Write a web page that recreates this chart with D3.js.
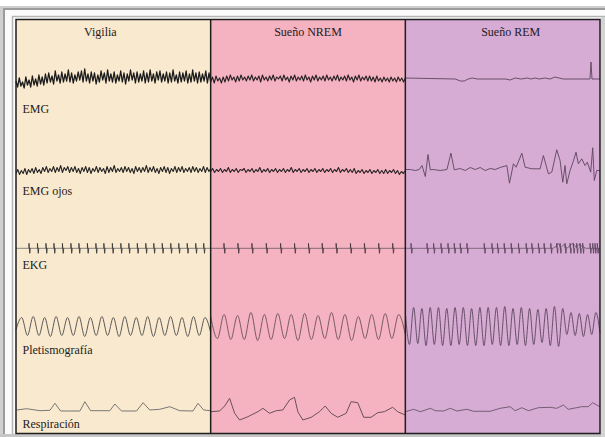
<!DOCTYPE html>
<html>
<head>
<meta charset="utf-8">
<script src="https://cdn.jsdelivr.net/npm/d3@7"></script>
<style>
    body { margin: 0; background: #fff; }
    svg { display: block; }
    text { font-family: "Liberation Serif", "DejaVu Serif", serif; fill: #1c1c1c; }
</style>
</head>
<body>
<div id="chart"></div>
<script>
// stages and signals
const states = ["Vigilia", "Sueño NREM", "Sueño REM"];
const signals = ["EMG", "EMG ojos", "EKG", "Pletismografía", "Respiración"];

// EMG (dense samples, offset in px, + is down)
const emgVigilia = [
    2, 8, -1, 7, 3, 9, -2, 6, 1, 8,
    -3, 6, 0, 7, -4, 5, -2, 6, -5, 4,
    -6, 3, -3, 5, -8, 2, -4, 4, -7, 3,
    -5, 2, -9, 3, -6, 4, -4, 2, -7, 1,
    -8, 3, -10, 2, -5, 4, -7, 2, -6, 5,
    -4, 3, -8, 1, -6, 4, -9, 2, -5, 3,
    -7, 4, -4, 2, -8, 3, -6, 5, -5, 2,
    -9, 1, -6, 4, -7, 3, -5, 2, -8, 4,
    -6, 3, -9, 2, -5, 4, -7, 1, -8, 3,
    -5, 2, -7, 4, -6, 3, -9, 2, -4, 4,
    -7, 3, -6, 2, -8, 4, -5, 3, -9, 2,
    -6, 4, -7, 3, -5, 2, -8, 4, -6, 3
];
const emgNrem = [
    3, -2, 4, -3, 2, -1, 4, -2, 3, -3,
    2, -4, 1, -2, 3, -3, 2, -4, 1, -2,
    2, -3, 1, -4, 2, -2, 1, -3, 3, -4,
    1, -2, 2, -3, 1, -4, 2, -2, 0, -3,
    2, -4, 1, -2, 3, -3, 1, -4, 2, -2,
    1, -3, 2, -4, 1, -2, 3, -3, 1, -4,
    2, -2, 1, -3, 2, -4, 1, -2, 2, -3,
    1, -4, 2, -2, 1, -3, 2, -4, 1, -2,
    3, -3, 1, -4, 2, -2, 1, -3, 2, -3,
    2, -2, 3, -3, 2, -1, 3, -2, 2, -1,
    3, -2, 2, -1, 3, -2, 2, -1, 3, -1
];
// [time, offset]
const emgRem = [
    [0, -1], [50, 0], [55, 2], [59, 2], [63, 0], [67, -1], [72, 0], [100, 0], [105, 1], [110, -1],
    [116, 0], [122, -1], [126, 0], [130, -1], [134, 0], [140, -1], [145, 0], [150, -2], [154, -1],
    [158, 0], [185, 0], [186, -17], [187, 0], [195, 0]
];

// EMG ojos
const ojosVigilia = [
    3, -1, 4, 0, 3, -2, 4, -1, 2, -2,
    3, -3, 2, -1, 3, -3, 1, -4, 2, -2,
    1, -4, 2, -3, 1, -5, 2, -3, 0, -4,
    2, -3, 1, -4, 2, -2, 3, -3, 1, -4,
    2, -3, 3, -2, 1, -4, 2, -3, 1, -2,
    3, -4, 2, -3, 1, -5, 2, -2, 1, -3,
    2, -4, 1, -3, 2, -2, 3, -4, 1, -3,
    2, -3, 1, -5, 2, -3, 1, -4, 2, -2,
    3, -3, 1, -4, 2, -3, 3, -2, 1, -4,
    2, -3, 1, -4, 2, -2, 1, -3, 2, -4,
    1, -3, 2, -2, 1, -4, 2, -3, 1, -2
];
const ojosNrem = [
    1, -2, 2, -1, 1, -2, 2, -1, 1, -3,
    2, -1, 1, -2, 2, -1, 0, -2, 2, -1,
    1, -2, 2, -1, 1, -3, 2, -1, 1, -2,
    2, -1, 1, -2, 2, -1, 1, -2, 2, -1,
    1, -3, 2, -1, 1, -2, 2, -1, 1, -2,
    2, -1, 1, -2, 2, -1, 1, -2, 2, -1,
    1, -2, 2, -1, 1, -3, 2, -1, 1, -2,
    2, -1, 2, -2, 3, 0, 2, -1, 3, 0,
    2, -1, 3, 0, 2, -1, 3, 0, 3, -1,
    3, 0, 2, -1, 3, 0, 4, 1, 3, 0
];
const ojosRem = [
    [0, -1], [5, -1], [10, 0], [14, -1], [16.7, -5], [20, 6], [22.7, -16], [25, -0.7], [28, -1],
    [35, 0], [41.7, -1], [45.7, -17.3], [49, -0.7], [55, -2], [60, 0], [65, -3], [70, -1], [75, -3],
    [80, 0], [85, -2], [90, -1], [95, -3], [101.7, -5], [104.3, 12.7], [108.3, -6.7], [111, -3.3],
    [116.7, -17.3], [120, -3.3], [126.7, -1.7], [135, -1.7], [138.3, -15], [143.3, 3.3], [146.7, 1.7],
    [151.7, -20.7], [155, -10], [157.7, 11.7], [160, -5], [161.7, 13.3], [165, 0], [168.3, -9.3],
    [171, -18.3], [173.3, -6.7], [176.7, -11.7], [180, -5], [182.3, -8.3], [185.7, 1.7], [187.7, -22.7],
    [189.3, 10], [191.7, 0], [195, 0]
];

// EKG beat times
const ekgVigilia = [13, 21.5, 30, 38, 46.5, 55, 63, 71.5, 80, 88, 96.5, 105, 113, 121.5, 130, 138,
    146.5, 155, 163, 171.5, 180, 188];
const ekgNrem = [13.3, 27.3, 41.3, 55.7, 70, 84, 98, 111.7, 125.7, 140, 154, 168.3, 182.3];
const ekgRem = [5.7, 21.7, 28.3, 35.7, 42.7, 49, 55, 61.7, 79, 86.7, 92.3, 99, 106, 113.3, 121, 126.7,
    133.3, 139, 145.7, 151.7, 155, 160, 165, 168.3, 171.7, 175, 177.7, 185, 187.7, 190, 192.3];
const ekgRemBase = [[0, 0], [148, 0], [151, -2], [153, -5], [156, -1], [159, -4], [162, 0], [165, -3],
    [168, -5], [171, -1], [174, -4], [177, -2], [181, 0], [195, 0]];

// Pletismografía (peaks / troughs)
const pletVigilia = [3, -9, 9, -10, 9, -9, 10, -10, 9, -9, 9, -10, 10, -9, 9, -10, 9, -9, 10, -10,
    9, -9, 9, -10, 10, -9, 9, -10, 9, -9, 10, -10, 9, -9, 6];
const pletNrem = [-10, 12, -12, 13, -11, 13, -14, 14, -12, 13, -13, 12, -12, 14, -13, 13, -11, 12,
    -14, 13, -12, 14, -10, 12, -12, 13, -13, 12, -12, 8];
const pletRem = [-14, 18, -19, 17, -18, 19, -19, 18, -19, 19, -18, 19, -19, 18, -19, 19, -18, 19,
    -19, 19, -19, 18, -19, 19, -20, 19, -18, 18, -19, 19, -18, 18, -17, 16, -18, 19, -20, 20, -18, 8,
    -14, 9, -13, 10, -12, 8, -14, 6];

// Respiración [time, offset]
const respVigilia = [[0.7, 0], [10.7, -1.3], [24, 0.7], [34, 0.3], [39, -6.7], [44.7, 1], [64, 1],
    [69, -8.3], [74.7, 0.7], [94, 0.7], [99, -6], [105.7, 1], [120.7, 1], [127.3, -7.3], [134, 0],
    [144, -0.7], [154, -3.3], [164, 0.7], [177.3, 1], [182.3, -6.7], [188, 0], [195, 0.7]];
const respNrem = [[0, 1.7], [9, 1], [14, -4], [19, -11.7], [24, 3.3], [29, 10], [37.3, 6.7], [47.3, 1.7],
    [52.3, -1.7], [59, 3.3], [65.7, 0.7], [72.3, 0], [79, -10], [84, -12.7], [87.3, 1.7], [92.3, 10],
    [100.7, 7.3], [109, 1.7], [114.7, -4], [120.7, 3.3], [127.3, 7.3], [135.7, 3.3], [140.7, -8.3],
    [147.3, -7.3], [153.3, 7.3], [160.7, 7.3], [167.3, 2.7], [174, 1.7], [182.3, -2.7], [187.3, 1.7],
    [195, 5]];
const respRem = [[0, 1.7], [8.3, -0.7], [15, 1.7], [25, -1.7], [30, 0.7], [38.3, 1], [45, -1.7],
    [51.7, 1], [61.7, -0.7], [68.3, 1.3], [85, 1.3], [95, -1.7], [105, -3.3], [110, 0.7], [116.7, -2.3],
    [123.3, 0.7], [133.3, -2.3], [145, -2.7], [151.7, -1.7], [158.3, -5], [163.3, -0.7], [176.7, -3.3],
    [183.3, -3.3], [187.7, -7.3], [191.7, -5], [195, -3.3]];

const W = 605, H = 437;
const stateFill = ["#f9e9cf", "#f5b2c0", "#d6abd4"];
const traceColor = ["#3a3a3a", "#4a3a40", "#5d465d"];
const rowCenter = { "EMG": 79, "EMG ojos": 170.5, "EKG": 248.3, "Pletismografía": 326.5, "Respiración": 410 };
const labelY = { "EMG": 112.5, "EMG ojos": 195, "EKG": 269, "Pletismografía": 354, "Respiración": 428 };
const titleNudge = [-13, 0, 8];

let svg = d3.select("#chart").append("svg")
    .attr("width", W)
    .attr("height", H);

// soft edges like the scanned original
svg.append("defs")
    .append("filter")
    .attr("id", "soft")
    .append("feGaussianBlur")
    .attr("stdDeviation", 0.35);

// frame
svg.append("rect").attr("x", 0).attr("y", 6).attr("width", W).attr("height", H - 6).attr("fill", "#cfcfcf");
svg.append("rect").attr("x", 4).attr("y", 9).attr("width", W).attr("height", H)
    .attr("fill", "#fbfbfb").attr("stroke", "#9c9c9c").attr("stroke-width", 2);
svg.append("rect").attr("x", 12.5).attr("y", 16.5).attr("width", W).attr("height", H)
    .attr("fill", "none").attr("stroke", "#b5b5b5").attr("stroke-width", 1.5);
svg.append("rect").attr("x", 0).attr("y", 434).attr("width", W).attr("height", 3).attr("fill", "#c6c6c6");
svg.append("rect").attr("x", 601).attr("y", 17).attr("width", 4).attr("height", H).attr("fill", "#d4d4d4");

let x = d3.scaleBand()
    .domain(states)
    .range([16, 600]);
const bw = x.bandwidth();
const panelTop = 19.5, panelBottom = 433.5;

// panels
svg.append("g")
    .selectAll("rect")
    .data(states)
    .enter()
    .append("rect")
    .attr("x", d => x(d))
    .attr("y", panelTop)
    .attr("width", bw)
    .attr("height", panelBottom - panelTop)
    .attr("fill", (d, i) => stateFill[i]);

let traces = svg.append("g").attr("filter", "url(#soft)");

function rowScale(sig) {
    const c = rowCenter[sig];
    return d3.scaleLinear().domain([-30, 30]).range([c - 30, c + 30]);
}

function timeScale(state) {
    return d3.scaleLinear().domain([0, 195]).range([x(state), x(state) + bw]);
}

function drawSamples(arr, state, sig, opts) {
    let xs = d3.scaleLinear().domain([0, arr.length - 1]).range([x(state), x(state) + bw]);
    let y = rowScale(sig);
    traces.append("path")
        .datum(arr)
        .attr("fill", "none")
        .attr("stroke", opts.color)
        .attr("stroke-width", opts.width)
        .attr("stroke-linejoin", "round")
        .attr("d", d3.line()
            .curve(opts.curve || d3.curveLinear)
            .x((d, i) => xs(i))
            .y(d => y(d)));
}

function drawPairs(arr, state, sig, opts) {
    let t = timeScale(state);
    let y = rowScale(sig);
    traces.append("path")
        .datum(arr)
        .attr("fill", "none")
        .attr("stroke", opts.color)
        .attr("stroke-width", opts.width)
        .attr("stroke-linejoin", "round")
        .attr("d", d3.line()
            .curve(opts.curve || d3.curveLinear)
            .x(d => t(d[0]))
            .y(d => y(d[1])));
}

function drawBeats(beats, state, opts) {
    let t = timeScale(state);
    let y = rowScale("EKG");
    traces.append("g")
        .selectAll("path")
        .data(beats)
        .enter()
        .append("path")
        .attr("fill", "none")
        .attr("stroke", opts.color)
        .attr("stroke-width", opts.width)
        .attr("d", d => {
            const bx = t(d);
            return "M" + bx + "," + y(0) + "L" + bx + "," + y(-5) + "L" + (bx + 0.8) + "," + y(5) + "L" + (bx + 1.3) + "," + y(0);
        });
}

// EMG
drawSamples(emgVigilia, "Vigilia", "EMG", { color: "#1e1e1e", width: 1.3 });
drawSamples(emgNrem, "Sueño NREM", "EMG", { color: "#262224", width: 1.1 });
drawPairs(emgRem, "Sueño REM", "EMG", { color: traceColor[2], width: 0.9 });

// EMG ojos
drawSamples(ojosVigilia, "Vigilia", "EMG ojos", { color: "#262626", width: 1.1 });
drawSamples(ojosNrem, "Sueño NREM", "EMG ojos", { color: "#262224", width: 1.1 });
drawPairs(ojosRem, "Sueño REM", "EMG ojos", { color: traceColor[2], width: 0.9 });

// EKG
drawPairs([[0, 0], [195, 0]], "Vigilia", "EKG", { color: "#6a6a6a", width: 0.8 });
drawPairs([[0, 0], [195, 0]], "Sueño NREM", "EKG", { color: "#6a5a60", width: 0.8 });
drawPairs(ekgRemBase, "Sueño REM", "EKG", { color: "#6a566a", width: 0.8 });
drawBeats(ekgVigilia, "Vigilia", { color: traceColor[0], width: 0.9 });
drawBeats(ekgNrem, "Sueño NREM", { color: traceColor[1], width: 0.9 });
drawBeats(ekgRem, "Sueño REM", { color: traceColor[2], width: 0.9 });

// Pletismografía
drawSamples(pletVigilia, "Vigilia", "Pletismografía", { color: "#4a4a4a", width: 0.9, curve: d3.curveMonotoneX });
drawSamples(pletNrem, "Sueño NREM", "Pletismografía", { color: "#6a5058", width: 0.9, curve: d3.curveMonotoneX });
drawSamples(pletRem, "Sueño REM", "Pletismografía", { color: "#5d465d", width: 0.9, curve: d3.curveMonotoneX });

// Respiración
drawPairs(respVigilia, "Vigilia", "Respiración", { color: "#6a6a6a", width: 0.9 });
drawPairs(respNrem, "Sueño NREM", "Respiración", { color: "#6a5058", width: 1 });
drawPairs(respRem, "Sueño REM", "Respiración", { color: "#6a566a", width: 0.9 });

// dividers and border
svg.append("g")
    .selectAll("line")
    .data(states.slice(1))
    .enter()
    .append("line")
    .attr("x1", d => x(d))
    .attr("x2", d => x(d))
    .attr("y1", panelTop)
    .attr("y2", panelBottom)
    .attr("stroke", "#1e1e1e")
    .attr("stroke-width", 1.5);
svg.append("rect")
    .attr("x", 16)
    .attr("y", panelTop)
    .attr("width", 584)
    .attr("height", panelBottom - panelTop)
    .attr("fill", "none")
    .attr("stroke", "#1e1e1e")
    .attr("stroke-width", 1.5);

// titles
svg.append("g")
    .selectAll("text")
    .data(states)
    .enter()
    .append("text")
    .attr("x", (d, i) => x(d) + bw / 2 + titleNudge[i])
    .attr("y", 36)
    .attr("text-anchor", "middle")
    .attr("font-size", 12)
    .text(d => d);

// signal labels
svg.append("g")
    .selectAll("text")
    .data(signals)
    .enter()
    .append("text")
    .attr("x", 22.5)
    .attr("y", d => labelY[d])
    .attr("font-size", 12)
    .text(d => d);
</script>
</body>
</html>
